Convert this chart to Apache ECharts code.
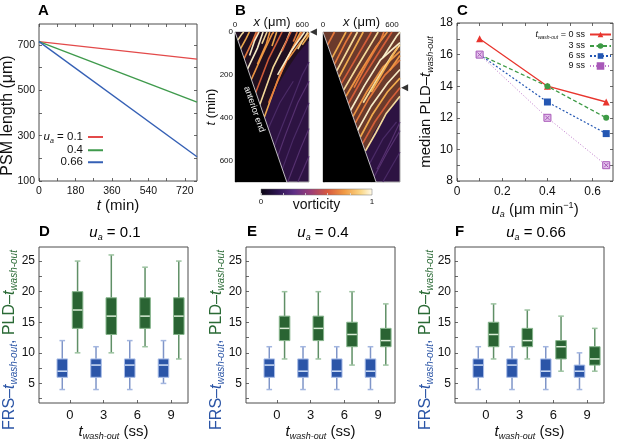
<!DOCTYPE html>
<html>
<head>
<meta charset="utf-8">
<title>PSM length, kymographs and wash-out</title>
<script src="https://cdn.jsdelivr.net/npm/echarts@6/dist/echarts.min.js"></script>
<style>
  html, body { margin: 0; padding: 0; background: #fff; }
  #main { width: 617px; height: 443px; }
</style>
</head>
<body>
<div id="main"></div>
<script>
var FONT = '"Liberation Sans", Arial, Helvetica, sans-serif';

// ---- A: PSM length over time ----
var psmTime = [0, 780];
var psmNames = ['0.1', '0.4', '0.66'];
var psmLength = [[715, 638], [715, 448], [715, 207]];
var psmXLabels = [0, 180, 360, 540, 720];
var psmXTicks = [0, 90, 180, 270, 360, 450, 540, 630, 720];
var psmYLabels = [100, 300, 500, 700];
var psmYTicks = [100, 200, 300, 400, 500, 600, 700];

// ---- B: kymographs (x in um, t in min) ----
var kymoXMax = [660, 670];
var kymoXLabels = [0, 600];
var kymoXTicks = [0, 100, 200, 300, 400, 500, 600];
var kymoTLabels = [0, 200, 400, 600];
var kymoTTicks = [0, 100, 200, 300, 400, 500, 600, 700];
var anteriorEnd = [[0, 0], [462, 700]];
var kymoArrowT = [0, 260];
var kymoLeftActive = [[0, 0], [660, 0], [660, 40], [560, 100], [470, 170], [380, 250], [300, 330], [262, 397]];
var kymoLeftStreaks = [
  [[25, 38], [60, 10], [78, 0]],
  [[50, 78], [100, 30], [128, 0]],
  [[80, 125], [150, 50], [190, 0]],
  [[112, 172], [200, 75], [250, 0]],
  [[145, 222], [250, 100], [330, 10], [345, 0]],
  [[185, 282], [300, 125], [400, 20], [420, 0]],
  [[222, 338], [340, 165], [460, 40], [490, 0]],
  [[262, 397], [380, 225], [460, 130], [560, 25], [585, 0]],
  [[300, 330], [420, 180], [520, 70], [600, 0]],
  [[380, 200], [500, 90], [620, 0]],
  [[470, 130], [580, 50], [660, 5]],
  [[160, 45], [205, 0]],
  [[240, 55], [285, 0]],
  [[330, 65], [372, 0]],
  [[520, 45], [555, 0]],
  [[130, 110], [175, 40], [215, 0]],
  [[200, 150], [280, 55], [310, 0]],
  [[420, 90], [470, 30], [500, 0]],
  [[560, 80], [620, 25], [650, 0]],
  [[600, 60], [660, 15]]
];
var kymoLeftFaint = [
  [[300, 700], [450, 480], [560, 330], [660, 230]],
  [[380, 700], [520, 500], [660, 330]],
  [[470, 700], [580, 550], [660, 450]],
  [[330, 560], [450, 400], [600, 200], [660, 140]],
  [[560, 700], [660, 580]],
  [[280, 470], [400, 330], [520, 230]]
];
var kymoRightActive = [[0, 0], [670, 0], [670, 300], [600, 340], [520, 400], [440, 470], [370, 560]];
var kymoRightStreaks = [
  [[370, 555], [460, 470], [550, 380], [670, 300]],
  [[325, 490], [430, 385], [560, 280], [670, 215]],
  [[280, 425], [400, 310], [540, 200], [670, 130]],
  [[240, 365], [360, 250], [500, 130], [670, 50]],
  [[200, 300], [320, 190], [460, 70], [560, 0]],
  [[160, 240], [280, 130], [400, 20], [420, 0]],
  [[120, 180], [230, 70], [300, 0]],
  [[80, 120], [180, 20], [200, 0]],
  [[40, 60], [100, 0]],
  [[300, 460], [420, 345], [560, 240], [670, 175]],
  [[260, 395], [380, 280], [520, 165], [670, 90]],
  [[220, 335], [340, 220], [480, 100], [600, 0]],
  [[180, 270], [300, 160], [430, 45], [480, 0]],
  [[140, 210], [250, 100], [350, 0]],
  [[100, 150], [200, 45], [250, 0]],
  [[520, 120], [640, 20], [670, 0]],
  [[580, 180], [670, 110]],
  [[345, 520], [450, 420], [580, 320], [670, 260]],
  [[350, 330], [460, 230], [600, 110], [670, 60]],
  [[420, 280], [540, 170], [650, 70]],
  [[270, 260], [380, 150], [500, 40], [530, 0]]
];
var kymoRightFaint = [
  [[420, 700], [560, 560], [670, 460]],
  [[520, 700], [670, 560]],
  [[470, 640], [600, 500], [670, 420]],
  [[400, 620], [520, 500], [640, 420]]
];
var vortLabels = [0, 1];
var vortTicks = [0, 0.2, 0.4, 0.6, 0.8, 1];

// ---- C: median PLD - t_wash-out ----
var uaValues = [0.1, 0.4, 0.66];
var washNames = ['0 ss', '3 ss', '6 ss', '9 ss'];
var medianPLD = [[17, 14, 13], [16, 14, 12], [16, 13, 11], [16, 12, 9]];
var uaLabels = [0, 0.2, 0.4, 0.6];
var uaTicks = [0, 0.1, 0.2, 0.3, 0.4, 0.5, 0.6];
var medLabels = [8, 10, 12, 14, 16, 18];
var medTicks = [8, 9, 10, 11, 12, 13, 14, 15, 16, 17, 18];

// ---- D-F: box plots [min, q1, median, q3, max] ----
var washCats = [0, 3, 6, 9];
var panelUa = ['0.1', '0.4', '0.66'];
var frsStats = [
  [[4, 6, 7, 9, 12], [4, 6, 8, 9, 11], [4, 6, 8, 9, 12], [5, 6, 8, 9, 12]],
  [[4, 6, 8, 9, 11], [4, 6, 7, 9, 11], [4, 6, 7, 9, 11], [4, 6, 7, 9, 11]],
  [[4, 6, 8, 9, 11], [4, 6, 8, 9, 11], [4, 6, 7, 9, 11], [4, 6, 7, 8, 10]]
];
var pldStats = [
  [[10, 14, 17, 20, 25], [10, 13, 16, 19, 26], [11, 14, 16, 19, 24], [9, 13, 16, 19, 25]],
  [[9, 12, 14, 16, 20], [9, 12, 14, 16, 20], [8, 11, 13, 15, 20], [8, 11, 12, 14, 18]],
  [[9, 11, 13, 15, 18], [9, 11, 12, 14, 17], [7, 9, 11, 12, 16], [7, 8, 9, 11, 14]]
];
var boxYLabels = [5, 10, 15, 20, 25];
var boxYTicks = [2.5, 5, 7.5, 10, 12.5, 15, 17.5, 20, 22.5, 25];

// ---------- styling ----------
var BLUE = '#2b55a6', GREEN = '#2a6a35';
var lineColors = ['#e34a4a', '#3f9a4c', '#3560b5'];
var washStyle = [
  { color: '#e8352e', symbol: 'triangle', type: 'solid', width: 1.3 },
  { color: '#3d9a45', symbol: 'circle', type: [4, 2.5], width: 1.3 },
  { color: '#2457b3', symbol: 'rect', type: [2, 2], width: 1.2 },
  { color: '#c07acc', symbol: 'path://M0 0H10V10H0Z M2 2L8 8M8 2L2 8', type: [1, 2], width: 1 }
];
var streakPalette = ['#fde3a0', '#f7b04f', '#ea7b3c', '#fff4cf', '#f39a45', '#d8603a'];
var boxPal = {
  frs: { fill: '#2b55a8', edge: '#a9bde8', median: '#d2e0f7', whisker: '#7f95c8', cap: '#a3b6e0' },
  pld: { fill: '#2a6433', edge: '#86b58c', median: '#d9ecd6', whisker: '#5f8f66', cap: '#9cc3a0' }
};
var BOX_OFFSET = 0.68, BOX_HALF = 0.47, CAP_HALF = 0.25;

function rich(size, color) {
  color = color || '#111';
  return {
    n: { fontSize: size, fontFamily: FONT, color: color, lineHeight: size + 3 },
    i: { fontSize: size, fontFamily: FONT, color: color, fontStyle: 'italic', lineHeight: size + 3 },
    s: { fontSize: Math.round(size * 0.6), fontFamily: FONT, color: color, fontStyle: 'italic',
         verticalAlign: 'bottom', lineHeight: Math.round(size * 0.55) },
    sup: { fontSize: Math.round(size * 0.6), fontFamily: FONT, color: color,
           verticalAlign: 'top', lineHeight: Math.round(size * 0.6) },
    sp: { width: 26, fontSize: size, lineHeight: size + 3 }
  };
}
function twoColourRich(size) {
  var b = rich(size, BLUE), g = rich(size, GREEN);
  return { bn: b.n, bi: b.i, bs: b.s, gn: g.n, gi: g.i, gs: g.s,
           sp: { width: 30, fontSize: size, lineHeight: size + 3 } };
}

function axis(o) {
  return {
    type: 'value', gridIndex: o.grid, position: o.pos, min: o.min, max: o.max, inverse: !!o.inverse,
    axisLine: { show: false, onZero: false }, splitLine: { show: false },
    axisTick: { show: !!o.ticks, inside: true, length: o.tickLen || 3, customValues: o.ticks,
                lineStyle: { color: o.tickColor || '#444', width: 0.8 } },
    axisLabel: o.labels ? { show: true, customValues: o.labels, fontSize: o.size, margin: o.margin,
                            color: '#111', fontFamily: FONT } : { show: false },
    name: o.name || '', nameLocation: 'middle', nameGap: o.gap || 0, nameMoveOverlap: false,
    nameTextStyle: { fontFamily: FONT, color: '#111', fontSize: o.nameSize || 15,
                     rich: o.rich || rich(o.nameSize || 15) }
  };
}
function frame(g, extra) {
  return Object.assign({ show: true, borderColor: '#4d4d4d', borderWidth: 1,
                         backgroundColor: 'transparent', outerBoundsMode: 'none' }, g, extra || {});
}

var grids = [
  frame({ left: 39, top: 24, width: 158, height: 157 }),
  frame({ left: 235, top: 32, width: 74, height: 150 }, { borderColor: '#a8a8a8', backgroundColor: '#2d1342' }),
  frame({ left: 323, top: 32, width: 77, height: 150 }, { borderColor: '#a8a8a8', backgroundColor: '#2d1342' }),
  frame({ left: 457, top: 23, width: 156, height: 158 }),
  frame({ left: 39, top: 247, width: 149, height: 156 }),
  frame({ left: 246, top: 247, width: 149, height: 156 }),
  frame({ left: 455, top: 247, width: 149, height: 156 }),
  frame({ left: 261, top: 189, width: 111, height: 6 }, {
    borderColor: '#777', borderWidth: 0.5,
    backgroundColor: { type: 'linear', x: 0, y: 0, x2: 1, y2: 0, colorStops: [
      { offset: 0, color: '#0a0612' }, { offset: 0.15, color: '#2c1450' },
      { offset: 0.3, color: '#5e2f86' }, { offset: 0.45, color: '#9c3d76' },
      { offset: 0.6, color: '#d8593e' }, { offset: 0.75, color: '#f19a43' },
      { offset: 0.9, color: '#fbd889' }, { offset: 1, color: '#fffbeb' }] }
  })
];

var dfName = '{bn|FRS–}{bi|t}{bs|wash-out}{bn|, }{gn|PLD–}{gi|t}{gs|wash-out}{sp| }';

var xAxes = [
  axis({ grid: 0, pos: 'bottom', min: 0, max: 780, ticks: psmXTicks, labels: psmXLabels, size: 10.5, margin: 5,
         name: '{i|t}{n| (min)}', gap: 16, nameSize: 15 }),
  axis({ grid: 0, pos: 'top', min: 0, max: 780, ticks: psmXTicks }),
  axis({ grid: 1, pos: 'top', min: 0, max: kymoXMax[0], ticks: kymoXTicks, labels: kymoXLabels, size: 8, margin: 3,
         tickColor: '#bbb', tickLen: 2, name: '{i|x}{n| (μm)}', gap: 2, nameSize: 13 }),
  axis({ grid: 2, pos: 'top', min: 0, max: kymoXMax[1], ticks: kymoXTicks, labels: kymoXLabels, size: 8, margin: 3,
         tickColor: '#bbb', tickLen: 2, name: '{i|x}{n| (μm)}', gap: 2, nameSize: 13 }),
  axis({ grid: 3, pos: 'bottom', min: 0, max: 0.69, ticks: uaTicks, labels: uaLabels, size: 12, margin: 5,
         name: '{i|u}{s|a}{n| (μm min}{sup|−1}{n|)}', gap: 20, nameSize: 15 }),
  axis({ grid: 3, pos: 'top', min: 0, max: 0.69, ticks: uaTicks })
];
var yAxes = [
  axis({ grid: 0, pos: 'left', min: 100, max: 793, ticks: psmYTicks, labels: psmYLabels, size: 10.5, margin: 4,
         name: '{n|PSM length (μm)}{sp| }', gap: 22, nameSize: 16 }),
  axis({ grid: 0, pos: 'right', min: 100, max: 793, ticks: psmYTicks }),
  axis({ grid: 1, pos: 'left', min: 0, max: 700, inverse: true, ticks: kymoTTicks, labels: kymoTLabels, size: 8,
         margin: 2, tickColor: '#bbb', tickLen: 2, name: '{i|t}{n| (min)}', gap: 16, nameSize: 13 }),
  axis({ grid: 2, pos: 'left', min: 0, max: 700, inverse: true, ticks: kymoTTicks, tickColor: '#bbb', tickLen: 2 }),
  axis({ grid: 3, pos: 'left', min: 8, max: 18, ticks: medTicks, labels: medLabels, size: 12, margin: 4,
         name: '{n|median PLD–}{i|t}{s|wash-out}', gap: 22, nameSize: 15 }),
  axis({ grid: 3, pos: 'right', min: 8, max: 18, ticks: medTicks })
];
for (var p = 0; p < 3; p++) {
  xAxes.push(axis({ grid: 4 + p, pos: 'bottom', min: -2.75, max: 10.5, ticks: washCats, labels: washCats,
                    size: 13, margin: 6, name: '{i|t}{s|wash-out}{n| (ss)}', gap: 20, nameSize: 15 }));
  yAxes.push(axis({ grid: 4 + p, pos: 'left', min: 1.8, max: 27.3, ticks: boxYTicks, labels: boxYLabels,
                    size: 12, margin: 4, name: dfName, gap: 20, nameSize: 16, rich: twoColourRich(16) }));
}
xAxes.push(axis({ grid: 7, pos: 'bottom', min: 0, max: 1, ticks: vortTicks, labels: vortLabels, size: 8, margin: 3,
                  tickColor: '#ddd', tickLen: 2, name: 'vorticity', gap: 3, nameSize: 14 }));
yAxes.push({ type: 'value', gridIndex: 7, min: 0, max: 1, show: false });

var series = [];

// A
psmNames.forEach(function (n, i) {
  series.push({
    name: n, type: 'line', xAxisIndex: 0, yAxisIndex: 0, symbol: 'none', silent: true,
    data: psmTime.map(function (t, k) { return [t, psmLength[i][k]]; }),
    lineStyle: { color: lineColors[i], width: 1.4 }, itemStyle: { color: lineColors[i] }
  });
});

// B
function streaks(ax, list, palette, width, opacity) {
  return {
    type: 'lines', coordinateSystem: 'cartesian2d', xAxisIndex: ax, yAxisIndex: ax,
    polyline: true, silent: true, clip: true, z: 2,
    lineStyle: { width: width, opacity: opacity },
    data: list.map(function (c, i) { return { coords: c, lineStyle: { color: palette[i % palette.length] } }; })
  };
}
function zone(ax, pts, fill) {
  return {
    type: 'custom', xAxisIndex: ax, yAxisIndex: ax, silent: true, z: 1, data: [0],
    renderItem: function (params, api) {
      return { type: 'polygon', shape: { points: pts.map(function (q) { return api.coord(q); }) },
               style: { fill: fill } };
    }
  };
}
function anterior(ax, withText) {
  return {
    type: 'custom', xAxisIndex: ax, yAxisIndex: ax, silent: true, z: 3, data: [0],
    renderItem: function (params, api) {
      var p0 = api.coord(anteriorEnd[0]), p1 = api.coord(anteriorEnd[1]);
      var corner = api.coord([0, anteriorEnd[1][1]]);
      var kids = [
        { type: 'polygon', shape: { points: [p0, p1, corner] }, style: { fill: '#000' } },
        { type: 'line', shape: { x1: p0[0], y1: p0[1], x2: p1[0], y2: p1[1] },
          style: { stroke: '#e8e8e8', lineWidth: 0.8 } }
      ];
      if (withText) {
        var dx = p1[0] - p0[0], dy = p1[1] - p0[1], len = Math.sqrt(dx * dx + dy * dy);
        var nx = -dy / len, ny = dx / len;
        kids.push({ type: 'text', x: (p0[0] + p1[0]) / 2 + 7 * nx, y: (p0[1] + p1[1]) / 2 + 7 * ny,
                    rotation: -Math.atan2(dy, dx),
                    style: { text: 'anterior end', fill: '#f2f2f2', fontSize: 9, fontFamily: FONT,
                             align: 'center', verticalAlign: 'middle' } });
      }
      return { type: 'group', children: kids };
    }
  };
}
function arrow(ax, k) {
  return {
    type: 'scatter', xAxisIndex: ax, yAxisIndex: ax, silent: true, clip: false, z: 5,
    symbol: 'triangle', symbolRotate: 90, symbolSize: 7,
    itemStyle: { color: '#000' },
    data: [[kymoXMax[k] * 1.06, kymoArrowT[k]]]
  };
}
series.push(zone(2, kymoLeftActive, '#22101f'));
series.push(streaks(2, kymoLeftFaint, ['#55306f', '#4a2a66'], 1.2, 1));
series.push(streaks(2, kymoLeftStreaks, streakPalette, 1.6, 0.95));
series.push(anterior(2, true));
series.push(arrow(2, 0));
series.push(zone(3, kymoRightActive, '#6a3a2c'));
series.push(streaks(3, kymoRightFaint, ['#55306f', '#4a2a66'], 1.2, 1));
series.push(streaks(3, kymoRightStreaks, streakPalette, 1.7, 0.95));
series.push(anterior(3, false));
series.push(arrow(3, 1));

// C
washNames.forEach(function (n, i) {
  var st = washStyle[i];
  series.push({
    name: n, type: 'line', xAxisIndex: 4, yAxisIndex: 4, silent: true,
    symbol: st.symbol, symbolSize: i === 1 ? 6 : 7,
    data: uaValues.map(function (u, k) { return [u, medianPLD[i][k]]; }),
    lineStyle: { color: st.color, width: st.width, type: st.type },
    itemStyle: i === 3 ? { color: '#e3c3ec', borderColor: '#a858b8', borderWidth: 1 } : { color: st.color }
  });
});

// D-F
function boxes(ax, stats, side, pal) {
  return {
    type: 'custom', xAxisIndex: ax, yAxisIndex: ax, silent: true,
    data: stats.map(function (s, i) { return [washCats[i]].concat(s); }),
    encode: { x: 0, y: [1, 2, 3, 4, 5] },
    renderItem: function (params, api) {
      var x = api.value(0) + side * BOX_OFFSET;
      var lo = api.value(1), q1 = api.value(2), md = api.value(3), q3 = api.value(4), hi = api.value(5);
      var tl = api.coord([x - BOX_HALF, q3]), br = api.coord([x + BOX_HALF, q1]);
      var cx = api.coord([x, md])[0], yMd = api.coord([x, md])[1];
      var yLo = api.coord([x, lo])[1], yHi = api.coord([x, hi])[1];
      var cL = api.coord([x - CAP_HALF, lo])[0], cR = api.coord([x + CAP_HALF, lo])[0];
      return { type: 'group', children: [
        { type: 'line', shape: { x1: cx, y1: yHi, x2: cx, y2: tl[1] }, style: { stroke: pal.whisker, lineWidth: 1.5 } },
        { type: 'line', shape: { x1: cx, y1: br[1], x2: cx, y2: yLo }, style: { stroke: pal.whisker, lineWidth: 1.5 } },
        { type: 'line', shape: { x1: cL, y1: yHi, x2: cR, y2: yHi }, style: { stroke: pal.cap, lineWidth: 1.5 } },
        { type: 'line', shape: { x1: cL, y1: yLo, x2: cR, y2: yLo }, style: { stroke: pal.cap, lineWidth: 1.5 } },
        { type: 'rect', shape: { x: tl[0], y: tl[1], width: br[0] - tl[0], height: br[1] - tl[1] },
          style: { fill: pal.fill, stroke: pal.edge, lineWidth: 1 } },
        { type: 'line', shape: { x1: tl[0] + 0.5, y1: yMd, x2: br[0] - 0.5, y2: yMd },
          style: { stroke: pal.median, lineWidth: 1.5 } }
      ] };
    }
  };
}
for (var q = 0; q < 3; q++) {
  series.push(boxes(6 + q, frsStats[q], -1, boxPal.frs));
  series.push(boxes(6 + q, pldStats[q], 1, boxPal.pld));
}

// panel letters and headings
function txt(s, x, y, size, extra) {
  return Object.assign({ type: 'text', x: x, y: y, silent: true,
    style: Object.assign({ text: s, fontSize: size, fontFamily: FONT, fill: '#000', verticalAlign: 'top' },
                         extra || {}) });
}
var graphics = [
  txt('A', 38, 3, 15, { fontWeight: 'bold' }),
  txt('B', 235, 3, 15, { fontWeight: 'bold' }),
  txt('C', 457, 3, 15, { fontWeight: 'bold' }),
  txt('D', 39, 224, 15, { fontWeight: 'bold' }),
  txt('E', 247, 224, 15, { fontWeight: 'bold' }),
  txt('F', 455, 224, 15, { fontWeight: 'bold' })
];
var headX = [115, 323, 536];
panelUa.forEach(function (u, k) {
  graphics.push(txt('{i|u}{s|a}{n| = ' + u + '}', headX[k], 224, 15, { align: 'center', rich: rich(15) }));
});

var option = {
  animation: false,
  backgroundColor: '#fff',
  textStyle: { fontFamily: FONT },
  grid: grids,
  xAxis: xAxes,
  yAxis: yAxes,
  legend: [{
    data: psmNames, orient: 'vertical', align: 'right', right: 514, top: 131, padding: 0,
    icon: 'path://M0 0H30V4H0Z', itemWidth: 15, itemHeight: 2, itemGap: 0, selectedMode: false,
    formatter: function (n) { return n === psmNames[0] ? '{i|u}{s|a}{n| = ' + n + '}' : '{n|' + n + '}'; },
    textStyle: { fontSize: 11.5, color: '#111', fontFamily: FONT, rich: rich(11.5) }
  }, {
    data: washNames, orient: 'vertical', align: 'right', right: 5, top: 30, padding: 0,
    itemWidth: 21, itemHeight: 7, itemGap: 1, selectedMode: false,
    formatter: function (n) { return n === washNames[0] ? '{i|t}{s|wash-out}{n| = ' + n + '}' : '{n|' + n + '}'; },
    textStyle: { fontSize: 9, color: '#111', fontFamily: FONT, rich: rich(9) }
  }],
  graphic: graphics,
  series: series
};

var chart = echarts.init(document.getElementById('main'));
chart.setOption(option);
</script>
</body>
</html>
